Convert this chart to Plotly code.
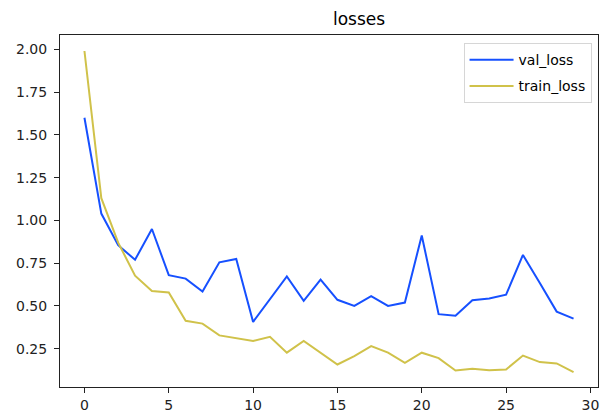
import plotly.graph_objects as go

epochs = list(range(30))
val_loss = [1.60, 1.04, 0.855, 0.77, 0.95, 0.68, 0.66, 0.585, 0.755, 0.775,
            0.407, 0.54, 0.673, 0.53, 0.654, 0.536, 0.50, 0.557, 0.50, 0.52,
            0.912, 0.452, 0.443, 0.534, 0.544, 0.566, 0.798, 0.634, 0.467, 0.426]
train_loss = [1.99, 1.13, 0.87, 0.677, 0.587, 0.579, 0.413, 0.397, 0.328, 0.31,
              0.295, 0.32, 0.227, 0.295, 0.227, 0.158, 0.207, 0.266, 0.227, 0.168,
              0.227, 0.195, 0.123, 0.133, 0.125, 0.129, 0.21, 0.172, 0.164, 0.113]
x_ticks = [0, 5, 10, 15, 20, 25, 30]
y_ticks = [0.25, 0.50, 0.75, 1.00, 1.25, 1.50, 1.75, 2.00]

fig = go.Figure()
fig.add_trace(go.Scatter(x=epochs, y=val_loss, mode="lines", name="val_loss",
                         legendgroup="a",
                         line=dict(color="#1650ff", width=2)))
fig.add_trace(go.Scatter(x=epochs, y=train_loss, mode="lines", name="train_loss",
                         legendgroup="b",
                         line=dict(color="#d0c24a", width=2)))

axis_common = dict(showline=True, linecolor="#222", linewidth=1.1, mirror=True,
                   ticks="outside", ticklen=5, tickcolor="#222", tickwidth=1.1,
                   showgrid=False, zeroline=False, automargin=False,
                   tickfont=dict(family="DejaVu Sans", size=14, color="#222"))
fig.update_layout(
    width=601, height=414,
    margin=dict(l=60, r=3, t=35, b=27),
    paper_bgcolor="white", plot_bgcolor="white",
    title=dict(text="losses", x=(60 + 299) / 601, xanchor="center",
               y=1 - 19 / 414, yanchor="middle",
               font=dict(family="DejaVu Sans", size=17, color="black")),
    xaxis=dict(range=[-1.45, 30.45], tickvals=x_ticks, **axis_common),
    yaxis=dict(range=[0.0265, 2.0835], tickvals=y_ticks, tickformat=".2f",
               ticklabelstandoff=4, **axis_common),
    legend=dict(x=0.988, y=0.977, xanchor="right", yanchor="top",
                bgcolor="white", bordercolor="#d6d6d6", borderwidth=1,
                font=dict(family="DejaVu Sans", size=14, color="black"),
                traceorder="grouped", tracegroupgap=5, itemwidth=44),
    showlegend=True,
)
fig.write_html("out.html", config={"displayModeBar": False},
               post_script="document.body.style.margin='0';document.body.style.overflow='hidden';")
